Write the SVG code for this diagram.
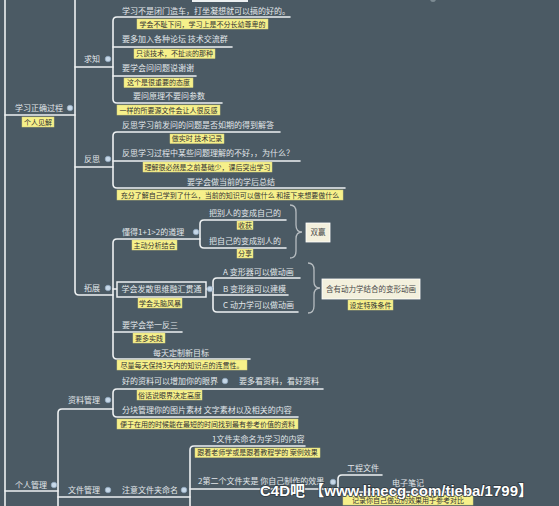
<svg xmlns="http://www.w3.org/2000/svg" width="559" height="506" viewBox="0 0 559 506">
<style>
.t{font-family:"Noto Sans CJK SC","Noto Sans",sans-serif;font-size:8px;fill:#e2e7ea}
.l{font-family:"Noto Sans CJK SC","Noto Sans",sans-serif;font-size:7px;fill:#333}
.lb{fill:#f6f08a;stroke:#d8d27c;stroke-width:0.5}
.ln{stroke:#eef1f2;stroke-width:1.6;fill:none;stroke-linecap:round}
.br{stroke:#b6bcc0;stroke-width:1.3;fill:none}
.dot{fill:#c6d7e7;stroke:#8fa8bf;stroke-width:0.7}
.bx{fill:#f3f0dd;stroke:#ffffff;stroke-width:0.8}
.bt{font-family:"Noto Sans CJK SC","Noto Sans",sans-serif;font-size:7.5px;fill:#4a4a4a}
.wm{font-family:"Liberation Sans","Noto Sans CJK SC",sans-serif;font-size:15px;font-weight:bold;fill:#ffffff;stroke:#2e383e;stroke-width:1.5;paint-order:stroke}
</style>
<rect width="559" height="506" fill="#4b5a64"/>
<rect x="192" y="0" width="56" height="2" fill="#eef1f2"/>
<circle cx="433" cy="-1" r="3" fill="#7d8b93"/>
<g id="connectors">
<path class="ln" d="M5 0 V506"/>
<path class="ln" d="M5 115 H75"/>
<path class="ln" d="M75 0 V291 Q75 295 79 295 H113"/>
<path class="ln" d="M75 67 H113"/>
<path class="ln" d="M75 167 H113"/>
<path class="ln" d="M290 17 H117 Q113 17 113 21 V99 Q113 103 117 103 H222"/>
<path class="ln" d="M113 47 H232"/>
<path class="ln" d="M113 76 H196"/>
<path class="ln" d="M280 132 H117 Q113 132 113 136 V184 Q113 188 117 188 H345"/>
<path class="ln" d="M113 161 H300"/>
<path class="ln" d="M200 239 H117 Q113 239 113 243 V355 Q113 359 117 359 H250"/>
<path class="ln" d="M113 289 H117"/>
<path class="ln" d="M113 332 H182"/>
<path class="ln" d="M286 220 H204 Q200 220 200 224 V244 Q200 248 204 248 H286"/>
<path class="ln" d="M300 278 H217 Q213 278 213 282 V308 Q213 312 217 312 H298"/>
<path class="ln" d="M206 289 H213"/>
<path class="ln" d="M213 295 H288"/>
<path class="ln" d="M5 491 H58"/>
<path class="ln" d="M58 506 V413 Q58 409 62 409 H113"/>
<path class="ln" d="M323 389 H117 Q113 389 113 393 V413 Q113 417 117 417 H298"/>
<path class="ln" d="M58 497 H190"/>
<path class="ln" d="M305 446 H194 Q190 446 190 450 V506"/>
<path class="ln" d="M190 489 H338"/>
<path class="ln" d="M382 475 H342 Q338 475 338 479 V488 Q338 492 342 492 H475"/>
<path class="br" d="M290 205 Q296 205 296 212 V225 Q296 232 302 232 Q296 232 296 239 V251 Q296 258 290 258"/>
<path class="br" d="M308 263 Q314 263 314 270 V282 Q314 288 320 288 Q314 288 314 295 V306 Q314 313 308 313"/>
</g>
<g id="n-xuexi">
<text class="t" x="15" y="111">学习正确过程</text>
<circle class="dot" cx="70" cy="108" r="2.8"/>
<rect class="lb" x="22" y="117" width="32" height="10"/>
<text class="l" x="38" y="124.7" text-anchor="middle">个人见解</text>
</g>
<g id="n-qiuzhi">
<text class="t" x="84" y="62">求知</text>
<circle class="dot" cx="108" cy="59" r="2.8"/>
</g>
<g id="n-q1">
<text class="t" x="122" y="14">学习不是闭门造车，打坐凝想就可以搞的好的。</text>
<rect class="lb" x="137" y="19" width="131" height="10"/>
<text class="l" x="202.5" y="26.7" text-anchor="middle">学会不耻下问，学习上是不分长幼尊卑的</text>
</g>
<g id="n-q2">
<text class="t" x="122" y="42">要多加入各种论坛 技术交流群</text>
<rect class="lb" x="134" y="49" width="81" height="9.5"/>
<text class="l" x="174.5" y="56.4" text-anchor="middle">只谈技术，不扯淡的那种</text>
</g>
<g id="n-q3">
<text class="t" x="122" y="71">要学会问问题说谢谢</text>
<rect class="lb" x="124" y="78" width="69" height="9.5"/>
<text class="l" x="158.5" y="85.4" text-anchor="middle">这个是很重要的态度</text>
</g>
<g id="n-q4">
<text class="t" x="133" y="99">要问原理不要问参数</text>
<rect class="lb" x="117" y="105" width="103" height="10"/>
<text class="l" x="168.5" y="112.7" text-anchor="middle">一样的所要源文件会让人很反感</text>
</g>
<g id="n-fansi">
<text class="t" x="84" y="162">反思</text>
<circle class="dot" cx="108" cy="159" r="2.8"/>
</g>
<g id="n-f1">
<text class="t" x="122" y="128">反思学习前发问的问题是否如期的得到解答</text>
<rect class="lb" x="170" y="134" width="54" height="9.5"/>
<text class="l" x="197" y="141.4" text-anchor="middle">做实时 技术记录</text>
</g>
<g id="n-f2">
<text class="t" x="122" y="156">反思学习过程中某些问题理解的不好，，为什么？</text>
<rect class="lb" x="143" y="162" width="129" height="10"/>
<text class="l" x="207.5" y="169.7" text-anchor="middle">理解很必然是之前基础少，课后突出学习</text>
</g>
<g id="n-f3">
<text class="t" x="187" y="185">要学会做当前的学后总结</text>
<rect class="lb" x="117" y="190" width="226" height="10"/>
<text class="l" x="230" y="197.7" text-anchor="middle">充分了解自己学到了什么，当前的知识可以做什么 和接下来想要做什么</text>
</g>
<g id="n-tuozhan">
<text class="t" x="84" y="291">拓展</text>
<circle class="dot" cx="108" cy="288" r="2.8"/>
</g>
<g id="n-t1">
<text class="t" x="122" y="235">懂得1+1&gt;2的道理</text>
<circle class="dot" cx="196" cy="232" r="2.8"/>
<rect class="lb" x="132" y="240" width="45" height="10"/>
<text class="l" x="154.5" y="247.7" text-anchor="middle">主动分析结合</text>
</g>
<g id="n-t1a">
<text class="t" x="209" y="216">把别人的变成自己的</text>
<rect class="lb" x="237" y="221" width="16" height="8.5"/>
<text class="l" x="245" y="227.9" text-anchor="middle">收获</text>
</g>
<g id="n-t1b">
<text class="t" x="209" y="244">把自己的变成别人的</text>
<rect class="lb" x="237" y="249" width="16" height="9"/>
<text class="l" x="245" y="256.2" text-anchor="middle">分享</text>
</g>
<g id="n-shuangying">
<rect class="bx" x="306" y="223" width="24" height="19"/>
<text class="bt" x="318" y="235.3" text-anchor="middle">双赢</text>
</g>
<g id="n-t2">
<rect x="117" y="282" width="89" height="15" fill="#4b5a64" stroke="#eef1f2" stroke-width="1.5"/>
<text class="t" x="161.5" y="292.4" text-anchor="middle">学会发散思维融汇贯通</text>
<circle class="dot" cx="210" cy="289" r="2.8"/>
<rect class="lb" x="138" y="298" width="44" height="10"/>
<text class="l" x="160" y="305.7" text-anchor="middle">学会头脑风暴</text>
</g>
<g id="n-t2a"><text class="t" x="223" y="275">A 变形器可以做动画</text></g>
<g id="n-t2b"><text class="t" x="223" y="292">B 变形器可以建模</text></g>
<g id="n-t2c"><text class="t" x="223" y="308">C 动力学可以做动画</text></g>
<g id="n-donglixue">
<rect class="bx" x="322" y="279" width="98" height="20"/>
<text class="bt" x="371" y="291.8" text-anchor="middle">含有动力学结合的变形动画</text>
<rect class="lb" x="348" y="300" width="45" height="10"/>
<text class="l" x="370.5" y="307.7" text-anchor="middle">设定特殊条件</text>
</g>
<g id="n-t3">
<text class="t" x="122" y="328">要学会举一反三</text>
<rect class="lb" x="133" y="333" width="32" height="10"/>
<text class="l" x="149" y="340.7" text-anchor="middle">要多实践</text>
</g>
<g id="n-t4">
<text class="t" x="153" y="356">每天定制新目标</text>
<rect class="lb" x="117" y="360" width="130" height="10"/>
<text class="l" x="182" y="367.7" text-anchor="middle">尽量每天保持3天内的知识点的连贯性。</text>
</g>
<g id="n-geren">
<text class="t" x="15" y="488">个人管理</text>
<circle class="dot" cx="54" cy="485" r="2.8"/>
</g>
<g id="n-ziliao">
<text class="t" x="68" y="403">资料管理</text>
<circle class="dot" cx="108" cy="400" r="2.8"/>
</g>
<g id="n-z1">
<text class="t" x="122" y="384">好的资料可以增加你的眼界</text>
<circle class="dot" cx="225" cy="381" r="2.8"/>
<rect class="lb" x="137" y="390" width="65" height="10"/>
<text class="l" x="169.5" y="397.7" text-anchor="middle">俗话说眼界决定高度</text>
</g>
<g id="n-z1a"><text class="t" x="239" y="384">要多看资料，看好资料</text></g>
<g id="n-z2">
<text class="t" x="122" y="413">分块管理你的图片素材 文字素材以及相关的内容</text>
<rect class="lb" x="117" y="419" width="181" height="10"/>
<text class="l" x="207.5" y="426.7" text-anchor="middle">便于在用的时候能在最短的时间找到最有参考价值的资料</text>
</g>
<g id="n-wenjian">
<text class="t" x="68" y="493">文件管理</text>
<circle class="dot" cx="108" cy="490" r="2.8"/>
</g>
<g id="n-w1">
<text class="t" x="122" y="493">注意文件夹命名</text>
<circle class="dot" cx="184" cy="490" r="2.8"/>
</g>
<g id="n-w1a">
<text class="t" x="212" y="442">1文件夹命名为学习的内容</text>
<rect class="lb" x="195" y="448" width="125" height="9.5"/>
<text class="l" x="257.5" y="455.4" text-anchor="middle">跟着老师学或是跟着教程学的 案例效果</text>
</g>
<g id="n-w1b">
<text class="t" x="198" y="484">2第二个文件夹是 你自己制作的效果</text>
<circle class="dot" cx="333" cy="482" r="2.8"/>
</g>
<g id="n-gongcheng"><text class="t" x="347" y="471">工程文件</text></g>
<g id="n-dianzi">
<text class="t" x="392" y="486">电子笔记</text>
<rect class="lb" x="343" y="495" width="130" height="10"/>
<text class="l" x="408" y="502.7" text-anchor="middle" font-size="7.8">记录你自己做过的效果用于参考对比</text>
</g>
<g id="watermark">
<text class="wm" x="260" y="496" textLength="273" lengthAdjust="spacingAndGlyphs">C4D吧 【www.linecg.com/tieba/1799】</text>
</g>
</svg>
